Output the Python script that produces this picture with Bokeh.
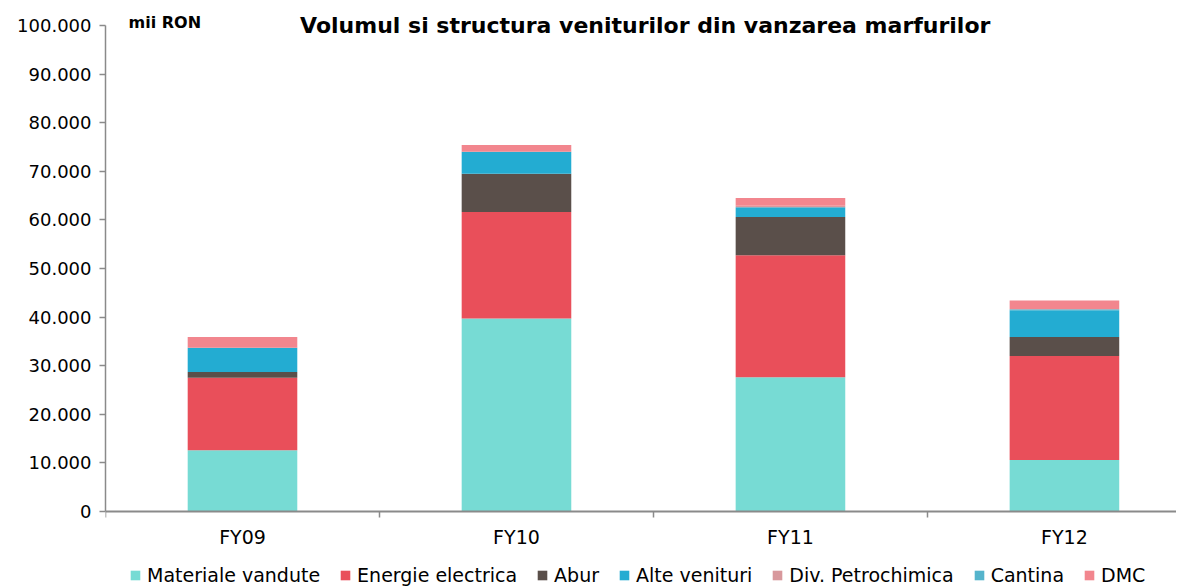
from bokeh.plotting import figure
from bokeh.models import (ColumnDataSource, FixedTicker, Label, Legend, LegendItem,
                          Range1d)
from bokeh.embed import file_html
from bokeh.resources import INLINE

categories = ["FY09", "FY10", "FY11", "FY12"]
series_names = ["Materiale vandute", "Energie electrica", "Abur", "Alte venituri",
                "Div. Petrochimica", "Cantina", "DMC"]
materiale = [12600, 39700, 27600, 10600]
energie = [14900, 21900, 25100, 21400]
abur = [1200, 7900, 7900, 3900]
alte = [5000, 4500, 2000, 5500]
div_petro = [0, 0, 300, 0]
cantina = [0, 0, 0, 200]
dmc = [2200, 1400, 1600, 1800]
colors = ["#77DBD4", "#E94F5A", "#5A4F4A", "#23ACD2", "#D8989C", "#55B4CC", "#F2868E"]
y_ticks = [0, 10000, 20000, 30000, 40000, 50000, 60000, 70000, 80000, 90000, 100000]

FONT = "DejaVu Sans"

keys = ["s%d" % i for i in range(len(series_names))]
xpos = [i + 0.5 for i in range(len(categories))]
data = dict(x=xpos)
for k, vals in zip(keys, [materiale, energie, abur, alte, div_petro, cantina, dmc]):
    data[k] = vals
src = ColumnDataSource(data)

p = figure(frame_width=1071, frame_height=581, output_backend="svg", toolbar_location=None,
           x_range=Range1d(0, 3.909), y_range=Range1d(-15429, 104100),
           min_border_left=105, min_border_right=0, min_border_top=5,
           min_border_bottom=0)
p.outline_line_color = None
p.xgrid.visible = False
p.ygrid.visible = False

renderers = p.vbar_stack(keys, x="x", width=0.4, source=src, color=colors,
                         line_color=None)

# axes
p.xaxis.fixed_location = 0
p.xaxis.axis_label = None
p.xaxis.ticker = FixedTicker(ticks=xpos, minor_ticks=[0, 1, 2, 3, 4])
p.xaxis.major_label_overrides = {x: c for x, c in zip(xpos, categories)}
p.xaxis.major_tick_out = 0
p.xaxis.major_tick_in = 0
p.xaxis.minor_tick_out = 6
p.xaxis.minor_tick_in = 0
p.xaxis.axis_line_color = "#8a8a8a"
p.xaxis.axis_line_width = 2
p.xaxis.minor_tick_line_color = "#8a8a8a"
p.xaxis.minor_tick_line_width = 1.5
p.xaxis.major_label_text_font = FONT
p.xaxis.major_label_text_font_size = "19px"
p.xaxis.major_label_text_color = "#000000"
p.xaxis.major_label_standoff = 8

p.yaxis.axis_label = None
p.yaxis.ticker = FixedTicker(ticks=y_ticks, minor_ticks=[])
p.yaxis.bounds = (0, 100000)
p.yaxis.major_label_overrides = {t: ("{:,}".format(t).replace(",", ".")) for t in y_ticks}
p.yaxis.major_tick_out = 6
p.yaxis.major_tick_in = 0
p.yaxis.axis_line_color = "#8a8a8a"
p.yaxis.axis_line_width = 1.5
p.yaxis.major_tick_line_color = "#8a8a8a"
p.yaxis.major_tick_line_width = 1.5
p.yaxis.major_label_text_font = FONT
p.yaxis.major_label_text_font_size = "18px"
p.yaxis.major_label_text_color = "#000000"
p.yaxis.major_label_standoff = 8

# title and unit label
p.add_layout(Label(x=1.97, y=100000, text="Volumul si structura veniturilor din vanzarea marfurilor",
                   text_font=FONT, text_font_size="22px", text_font_style="bold",
                   text_align="center", text_baseline="middle", text_color="#000000"))
p.add_layout(Label(x=0.084, y=100700, text="mii RON", text_font=FONT,
                   text_font_size="16px", text_font_style="bold",
                   text_align="left", text_baseline="middle", text_color="#000000"))

legend = Legend(items=[LegendItem(label=n, renderers=[r]) for n, r in zip(series_names, renderers)],
                orientation="horizontal", location=(24, 0))
legend.label_text_font = FONT
legend.label_text_font_size = "19px"
legend.label_text_color = "#000000"
legend.label_height = 16
legend.glyph_width = 12
legend.glyph_height = 12
legend.label_standoff = 6
legend.spacing = 19
legend.padding = 0
legend.margin = 0
legend.border_line_color = None
legend.background_fill_alpha = 0
p.add_layout(legend, "center")

open("out.html", "w").write(file_html(p, INLINE))
